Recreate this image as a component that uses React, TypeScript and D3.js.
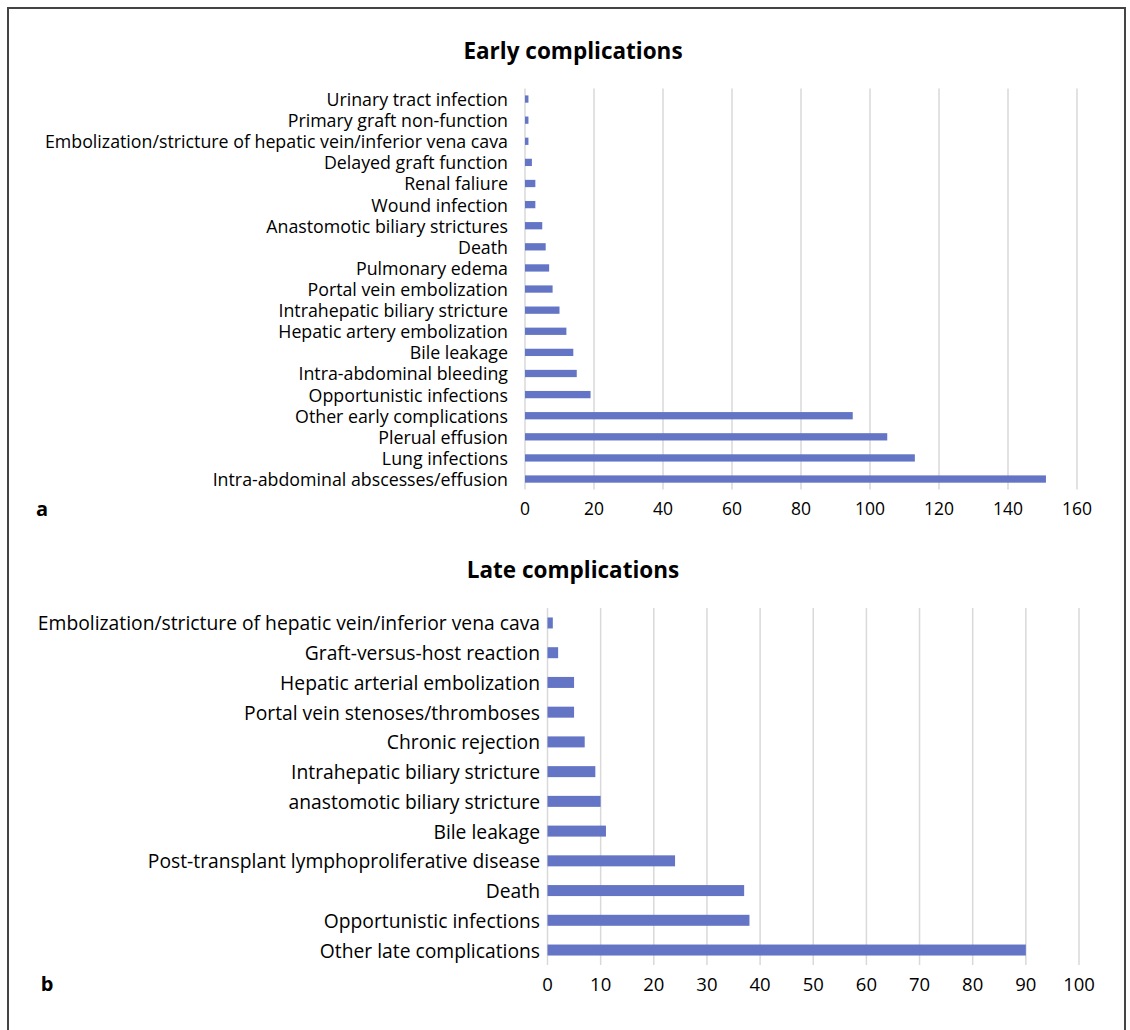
import React from "react";
import * as d3 from "d3";

const earlyCategories = [
  "Urinary tract infection",
  "Primary graft non-function",
  "Embolization/stricture of hepatic vein/inferior vena cava",
  "Delayed graft function",
  "Renal faliure",
  "Wound infection",
  "Anastomotic biliary strictures",
  "Death",
  "Pulmonary edema",
  "Portal vein embolization",
  "Intrahepatic biliary stricture",
  "Hepatic artery embolization",
  "Bile leakage",
  "Intra-abdominal bleeding",
  "Opportunistic infections",
  "Other early complications",
  "Plerual effusion",
  "Lung infections",
  "Intra-abdominal abscesses/effusion",
];
const earlyValues = [1, 1, 1, 2, 3, 3, 5, 6, 7, 8, 10, 12, 14, 15, 19, 95, 105, 113, 151];
const earlyTicks = [0, 20, 40, 60, 80, 100, 120, 140, 160];

const lateCategories = [
  "Embolization/stricture of hepatic vein/inferior vena cava",
  "Graft-versus-host reaction",
  "Hepatic arterial embolization",
  "Portal vein stenoses/thromboses",
  "Chronic rejection",
  "Intrahepatic biliary stricture",
  "anastomotic biliary stricture",
  "Bile leakage",
  "Post-transplant lymphoproliferative disease",
  "Death",
  "Opportunistic infections",
  "Other late complications",
];
const lateValues = [1, 2, 5, 5, 7, 9, 10, 11, 24, 37, 38, 90];
const lateTicks = [0, 10, 20, 30, 40, 50, 60, 70, 80, 90, 100];

const FONT = "'Open Sans', 'Noto Sans', sans-serif";
const BAR = "#6475c5";
const GRID = "#d9d9d9";

type PanelProps = {
  title: string;
  titleY: number;
  letter: string;
  letterX: number;
  categories: string[];
  values: number[];
  ticks: number[];
  xRange: [number, number];
  yRange: [number, number];
  padding: number;
  labelX: number;
  labelSize: number;
  tickY: number;
  tickSize: number;
};

function Panel(p: PanelProps) {
  const x = d3.scaleLinear().domain([p.ticks[0], p.ticks[p.ticks.length - 1]]).range(p.xRange);
  const y = d3
    .scaleBand<string>()
    .domain(p.categories)
    .range(p.yRange)
    .paddingInner(p.padding)
    .paddingOuter(p.padding / 2);
  return (
    <g>
      <text x={573} y={p.titleY} textAnchor="middle" dominantBaseline="central" fontFamily={FONT} fontWeight="bold" fontSize={22.5} fill="#000">
        {p.title}
      </text>
      {p.ticks.map((t) => (
        <line key={"g" + t} x1={x(t)} x2={x(t)} y1={p.yRange[0]} y2={p.yRange[1]} stroke={GRID} strokeWidth={1.5} />
      ))}
      {p.categories.map((c, i) => (
        <rect key={"b" + c} x={x(0)} y={y(c)!} width={x(p.values[i]) - x(0)} height={y.bandwidth()} fill={BAR} />
      ))}
      {p.categories.map((c) => (
        <text key={"l" + c} x={p.labelX} y={y(c)! + y.bandwidth() / 2} textAnchor="end" dominantBaseline="central" fontFamily={FONT} fontSize={p.labelSize} fill="#000">
          {c}
        </text>
      ))}
      {p.ticks.map((t) => (
        <text key={"t" + t} x={x(t)} y={p.tickY} textAnchor="middle" dominantBaseline="central" fontFamily={FONT} fontSize={p.tickSize} fill="#000">
          {t}
        </text>
      ))}
      <text x={p.letterX} y={p.tickY} textAnchor="middle" dominantBaseline="central" fontFamily={FONT} fontWeight="bold" fontSize={20} fill="#000">
        {p.letter}
      </text>
    </g>
  );
}

export default function App() {
  return (
    <svg width={1130} height={1030} style={{ position: "absolute", left: 0, top: 0, background: "#fff" }}>
      <rect x={0} y={0} width={1130} height={1030} fill="#fff" />
      <rect x={8} y={8} width={1117} height={1040} fill="none" stroke="#444" strokeWidth={2} />
      <Panel
        title="Early complications"
        titleY={50}
        letter="a"
        letterX={42}
        categories={earlyCategories}
        values={earlyValues}
        ticks={earlyTicks}
        xRange={[525, 1077]}
        yRange={[88.5, 489.6]}
        padding={0.655}
        labelX={508}
        labelSize={17.8}
        tickY={508}
        tickSize={17.5}
      />
      <Panel
        title="Late complications"
        titleY={569}
        letter="b"
        letterX={47}
        categories={lateCategories}
        values={lateValues}
        ticks={lateTicks}
        xRange={[547.5, 1079]}
        yRange={[608.1, 964.9]}
        padding={0.63}
        labelX={540}
        labelSize={19.3}
        tickY={983}
        tickSize={18.5}
      />
    </svg>
  );
}
